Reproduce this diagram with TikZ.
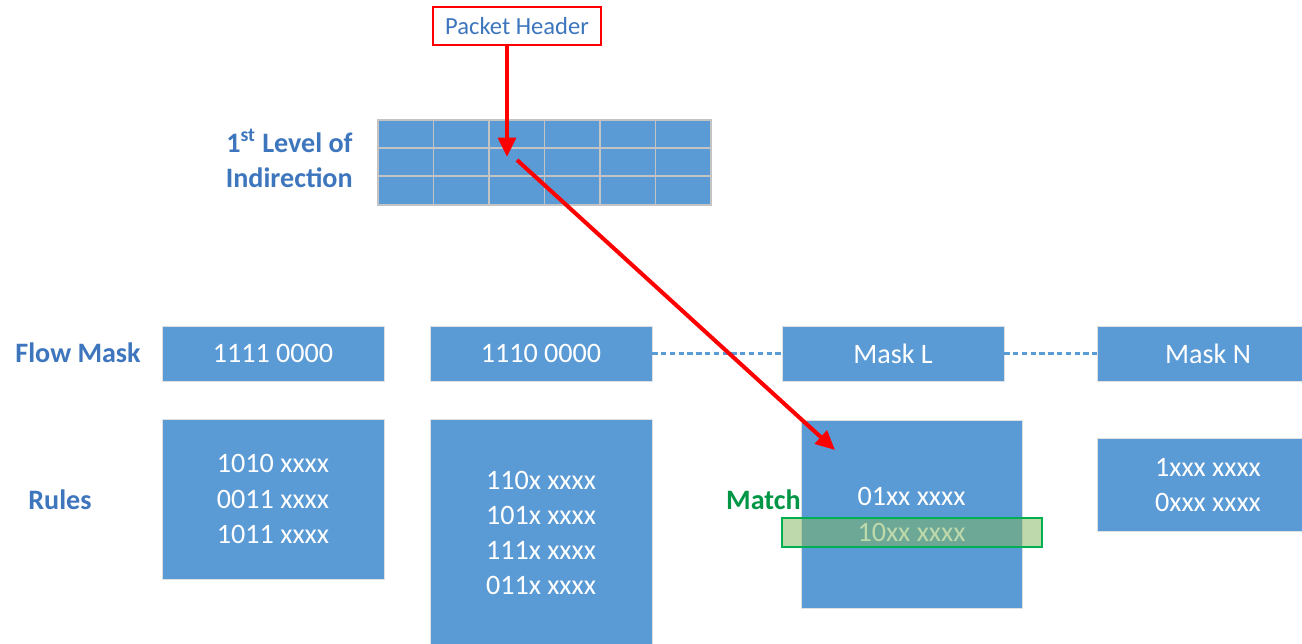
\documentclass[tikz,border=0pt]{standalone}
\usepackage{fontspec}
\setmainfont{Carlito}
\usetikzlibrary{arrows.meta}

\definecolor{boxblue}{RGB}{91,155,213}
\definecolor{lblblue}{RGB}{62,118,190}
\definecolor{gridgray}{RGB}{195,195,195}
\definecolor{matchgreen}{RGB}{0,176,80}
\definecolor{matchtext}{RGB}{0,150,70}
\definecolor{matchfill}{RGB}{127,180,88}

\tikzset{
    blk/.style={rectangle, fill=boxblue, draw=black!12, text=white, inner sep=0pt,
        align=center, font=\fontsize{16}{20}\selectfont},
    lbl/.style={text=lblblue, inner sep=0pt, font=\bfseries\fontsize{16}{20}\selectfont},
    redarrow/.style={draw=red, line width=2.3pt, -{Triangle[length=11pt,width=10pt]}},
    gap/.style={draw=boxblue, line width=1.2pt, dash pattern=on 3pt off 2pt},
}

\begin{document}
\begin{tikzpicture}[x=0.02cm, y=-0.02cm]

    \clip (0,0) rectangle (1302,643);
    \fill[white] (0,0) rectangle (1302,643);

    % packet header and first level table
    \node[draw=red, line width=1.2pt, fill=white, text=lblblue, minimum width=3.36cm,
        minimum height=0.76cm, font=\fontsize{14}{17}\selectfont] (hdr) at (517,26) {Packet Header};

    \node[rectangle, fill=boxblue, draw=gridgray, line width=1.1pt, minimum width=6.66cm,
        minimum height=1.7cm, inner sep=0pt] (tbl) at (544.5,162.5) {};
    \foreach \i in {1,...,5}
        \draw[gridgray, line width=1.1pt] (378+55.5*\i,120) -- (378+55.5*\i,205);
    \foreach \j in {148,176}
        \draw[gridgray, line width=1.1pt] (378,\j) -- (711,\j);

    \node[lbl, anchor=east, align=right] (lvl) at (353,158) {1\textsuperscript{st} Level of\\Indirection};

    % flow masks
    \begin{scope}[every node/.style={blk, minimum width=4.44cm, minimum height=1.1cm}]
        \node (fm1) at (273,353.5) {1111 0000};
        \node (fm2) at (541,353.5) {1110 0000};
        \node (fmL) at (893,353.5) {Mask L};
        \node (fmN) at (1208,353.5) {Mask N};
    \end{scope}
    \path[gap] (fm2.east) -- (fmL.west);
    \path[gap] (fmL.east) -- (fmN.west);

    % rule sets
    \begin{scope}[every node/.style={blk, minimum width=4.44cm}]
        \node[minimum height=3.2cm] (r1) at (273,499) {1010 xxxx\\0011 xxxx\\1011 xxxx};
        \node[minimum height=4.56cm] (r2) at (541,533) {110x xxxx\\101x xxxx\\111x xxxx\\011x xxxx};
        \node[minimum width=4.42cm, minimum height=3.76cm] (r3) at (911.5,514.5) {01xx xxxx\\10xx xxxx};
        \node[minimum height=1.86cm] (r4) at (1208,485) {1xxx xxxx\\0xxx xxxx};
    \end{scope}

    \node[lbl, anchor=west] (fmlbl) at (15,353) {Flow Mask};
    \node[lbl, anchor=west] (rlbl) at (28,500) {Rules};

    % matching rule
    \node[rectangle, draw=matchgreen, line width=1.2pt, fill=matchfill, fill opacity=0.5,
        minimum width=5.2cm, minimum height=0.58cm, inner sep=0pt] (hit) at (912,532.5) {};
    \node[anchor=east, inner sep=0pt, text=matchtext, font=\bfseries\fontsize{16}{20}\selectfont]
        (mlbl) at (801,500) {Match};

    % lookup path
    \coordinate (t1) at (507,157);
    \coordinate (t2) at (517,160);
    \coordinate (t3) at (835,450);
    \draw[redarrow] (hdr.south -| t1) -- (t1);
    \draw[redarrow] (t2) -- (t3);

\end{tikzpicture}
\end{document}
